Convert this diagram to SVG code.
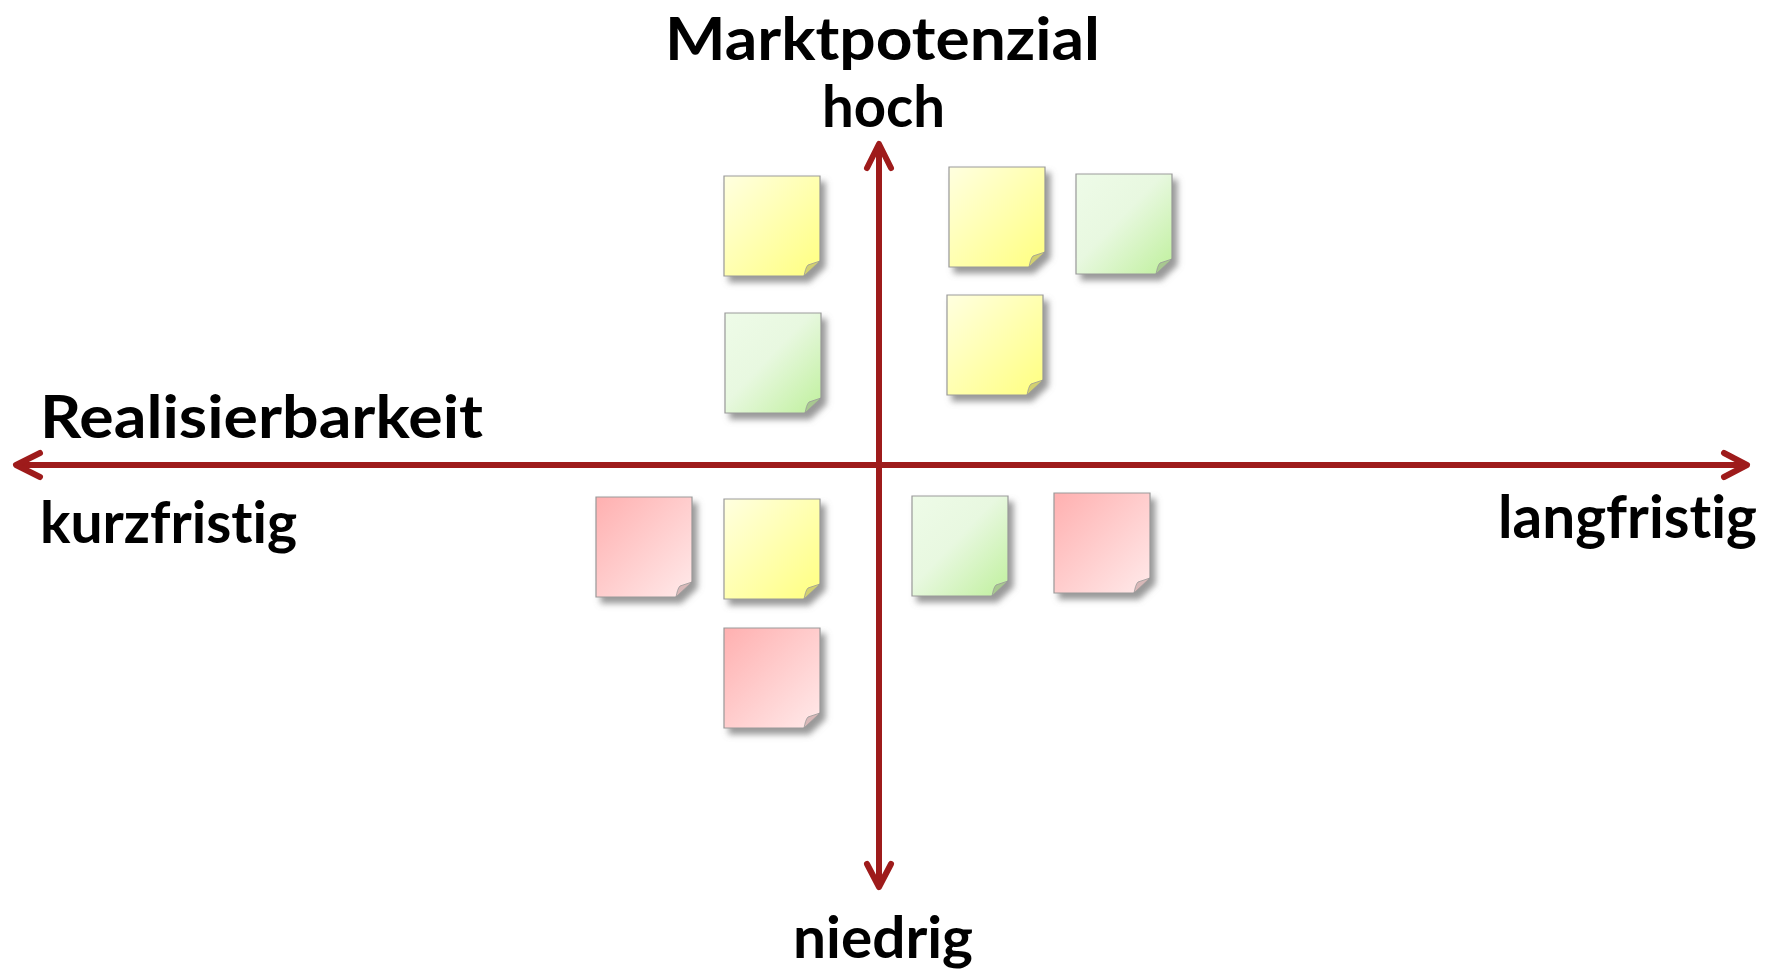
<svg xmlns="http://www.w3.org/2000/svg" width="1768" height="970" viewBox="0 0 1768 970">
<style>
.t{font-family:Lato,"Open Sans","Liberation Sans",sans-serif;font-weight:bold;fill:#000;font-variant-ligatures:none;font-feature-settings:"liga" 0}
.ax{stroke:#9e1b1b;stroke-width:6;fill:none;stroke-linecap:round;stroke-linejoin:round}
.nb{stroke:#999;stroke-width:1.2}
.cu{stroke:#999;stroke-width:0.8}
</style>
<defs>
<filter id="sh" x="-20%" y="-20%" width="150%" height="150%">
<feGaussianBlur in="SourceAlpha" stdDeviation="3"/>
<feOffset dx="5" dy="6" result="b"/>
<feFlood flood-color="#777" flood-opacity="0.75"/>
<feComposite in2="b" operator="in" result="s"/>
<feMerge><feMergeNode in="s"/><feMergeNode in="SourceGraphic"/></feMerge>
</filter>
<linearGradient id="gy" x1="0" y1="0" x2="1" y2="1"><stop offset="0" stop-color="#ffffe0"/><stop offset="1" stop-color="#ffff80"/></linearGradient>
<linearGradient id="gg" x1="0" y1="0" x2="1" y2="1"><stop offset="0" stop-color="#eefbe8"/><stop offset="0.45" stop-color="#e8f8e0"/><stop offset="1" stop-color="#bff09c"/></linearGradient>
<linearGradient id="gr" x1="0" y1="0" x2="1" y2="1"><stop offset="0" stop-color="#ffb0b0"/><stop offset="1" stop-color="#ffeaea"/></linearGradient>
<path id="body" d="M0,0 H96 V85 L80,100 H0 Z"/>
<path id="curl" d="M80,100 C81,95 82,91 84,89 L96,85 Z"/>
</defs>
<rect width="1768" height="970" fill="#fff"/>

<g id="connectors">
<line class="ax" x1="18" y1="465" x2="1745" y2="465"/>
<polyline class="ax" points="40,453 16,465 40,477"/>
<polyline class="ax" points="1724,453 1747,465 1724,477"/>
<line class="ax" x1="879" y1="146" x2="879" y2="885"/>
<polyline class="ax" points="867,168 879,144 891,168"/>
<polyline class="ax" points="867,864 879,887 891,864"/>
</g>

<g id="note-yellow-1" transform="translate(724,176)"><use href="#body" class="nb" fill="url(#gy)" filter="url(#sh)"/><use href="#curl" class="cu" fill="#d2d070"/></g>
<g id="note-green-1" transform="translate(725,313)"><use href="#body" class="nb" fill="url(#gg)" filter="url(#sh)"/><use href="#curl" class="cu" fill="#a8c890"/></g>
<g id="note-yellow-2" transform="translate(949,167)"><use href="#body" class="nb" fill="url(#gy)" filter="url(#sh)"/><use href="#curl" class="cu" fill="#d2d070"/></g>
<g id="note-green-2" transform="translate(1076,174)"><use href="#body" class="nb" fill="url(#gg)" filter="url(#sh)"/><use href="#curl" class="cu" fill="#a8c890"/></g>
<g id="note-yellow-3" transform="translate(947,295)"><use href="#body" class="nb" fill="url(#gy)" filter="url(#sh)"/><use href="#curl" class="cu" fill="#d2d070"/></g>
<g id="note-red-1" transform="translate(596,497)"><use href="#body" class="nb" fill="url(#gr)" filter="url(#sh)"/><use href="#curl" class="cu" fill="#d8b8b8"/></g>
<g id="note-yellow-4" transform="translate(724,499)"><use href="#body" class="nb" fill="url(#gy)" filter="url(#sh)"/><use href="#curl" class="cu" fill="#d2d070"/></g>
<g id="note-red-2" transform="translate(724,628)"><use href="#body" class="nb" fill="url(#gr)" filter="url(#sh)"/><use href="#curl" class="cu" fill="#d8b8b8"/></g>
<g id="note-green-3" transform="translate(912,496)"><use href="#body" class="nb" fill="url(#gg)" filter="url(#sh)"/><use href="#curl" class="cu" fill="#a8c890"/></g>
<g id="note-red-3" transform="translate(1054,493)"><use href="#body" class="nb" fill="url(#gr)" filter="url(#sh)"/><use href="#curl" class="cu" fill="#d8b8b8"/></g>

<g id="labels">
<text class="t" x="665" y="60" font-size="60" textLength="435" lengthAdjust="spacingAndGlyphs">Marktpotenzial</text>
<text class="t" x="822" y="127" font-size="58" textLength="123" lengthAdjust="spacingAndGlyphs">hoch</text>
<text class="t" x="40" y="438" font-size="60" textLength="443" lengthAdjust="spacingAndGlyphs">Realisierbarkeit</text>
<text class="t" x="40" y="543" font-size="57" textLength="257" lengthAdjust="spacingAndGlyphs">kurzfristig</text>
<text class="t" x="1498" y="538" font-size="59" textLength="259" lengthAdjust="spacingAndGlyphs">langfristig</text>
<text class="t" x="793" y="958" font-size="57" textLength="180" lengthAdjust="spacingAndGlyphs">niedrig</text>
</g>
</svg>
